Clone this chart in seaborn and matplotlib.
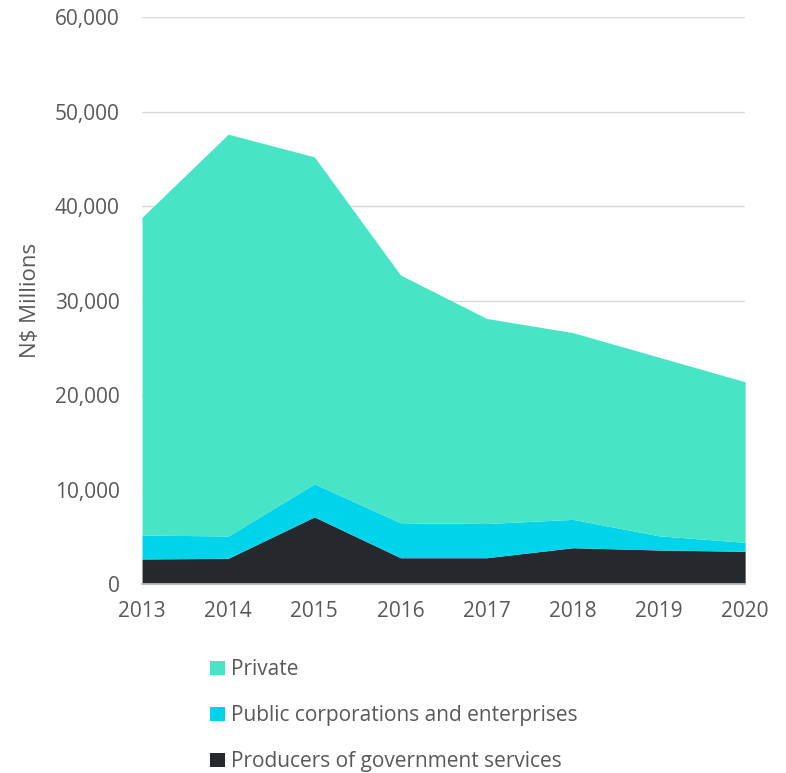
import matplotlib
matplotlib.use("Agg")
import matplotlib.pyplot as plt
import seaborn as sns
import pandas as pd
from matplotlib.ticker import FuncFormatter

years = [2013, 2014, 2015, 2016, 2017, 2018, 2019, 2020]
producers = [2650, 2720, 7100, 2780, 2780, 3840, 3600, 3460]
public = [2530, 2360, 3500, 3700, 3620, 3000, 1500, 950]
private = [33620, 42520, 34600, 26220, 21700, 19760, 18900, 16990]

labels = ["Producers of government services", "Public corporations and enterprises", "Private"]
colors = ["#25282D", "#00D4EB", "#47E5C6"]

df = pd.DataFrame({"year": years, labels[0]: producers, labels[1]: public, labels[2]: private})

sns.set_theme(style="white")
plt.rcParams["font.family"] = ["Open Sans", "DejaVu Sans"]

fig = plt.figure(figsize=(7.86, 7.73), dpi=100)
ax = fig.add_axes([0.1807, 0.2445, 0.948 - 0.1807, 0.978 - 0.2445])

polys = ax.stackplot(df["year"], df[labels[0]], df[labels[1]], df[labels[2]],
                     colors=colors, labels=labels, linewidth=0)

ax.set_xlim(2013, 2020)
ax.set_ylim(0, 60000)
ax.set_yticks(range(0, 60001, 10000))
ax.set_xticks(years)
ax.yaxis.set_major_formatter(FuncFormatter(lambda v, p: f"{int(v):,}"))
ax.grid(axis="y", color="#D9D9D9", linewidth=1)
ax.set_axisbelow(True)
sns.despine(ax=ax, left=True, top=True, right=True)
ax.spines["bottom"].set_color("#BFBFBF")
ax.tick_params(axis="both", length=0, labelsize=15, colors="#595959")
ax.tick_params(axis="y", pad=16)
ax.tick_params(axis="x", pad=12)
ax.set_ylabel("N$ Millions", fontsize=16, color="#595959")
ax.yaxis.set_label_coords(-0.168, 0.5)

handles = list(reversed(polys))
fig.legend(handles, list(reversed(labels)), loc="upper left",
           bbox_to_anchor=(0.257, 0.158), frameon=False, fontsize=15,
           labelcolor="#595959", handlelength=0.7, handleheight=0.7,
           handletextpad=0.3, labelspacing=1.2, borderaxespad=0)

fig.savefig("out.png", dpi=100)
